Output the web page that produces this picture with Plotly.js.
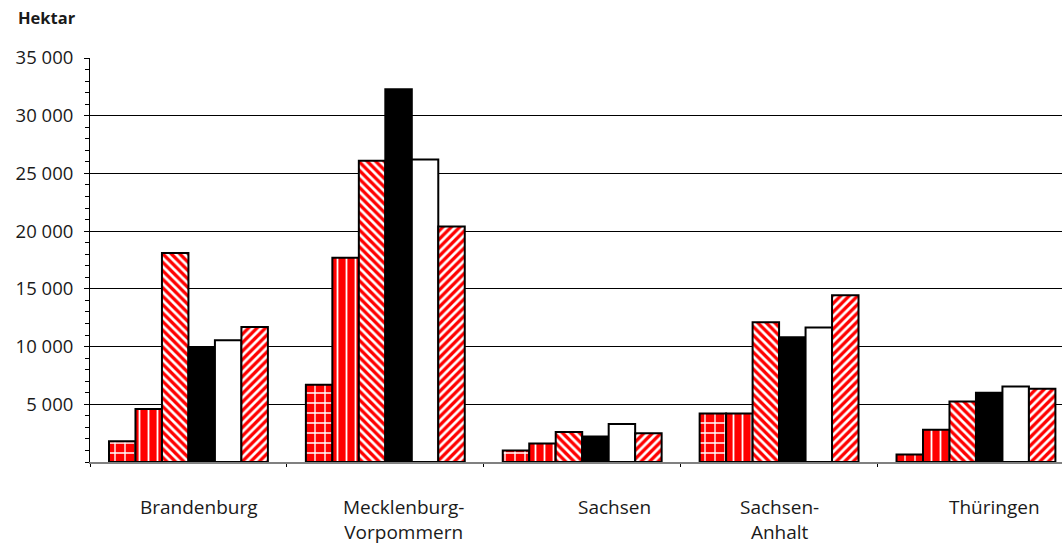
<!DOCTYPE html>
<html>
<head>
<meta charset="utf-8">
<script src="https://cdn.plot.ly/plotly-3.0.1.min.js"></script>
<style>
  html, body { margin: 0; padding: 0; background: #ffffff; }
  #chart { width: 1062px; height: 544px; }
</style>
</head>
<body>
<div id="chart"></div>
<script>
// Federal states (x categories) and their axis labels
const categories = ['Brandenburg', 'Mecklenburg-Vorpommern', 'Sachsen', 'Sachsen-Anhalt', 'Thüringen'];
const categoryLabels = ['Brandenburg', 'Mecklenburg-<br>Vorpommern', 'Sachsen', 'Sachsen-<br>Anhalt', 'Thüringen'];

// Area in hectares, one array per series
const series1 = [1800, 6700, 1000, 4200, 650];
const series2 = [4600, 17700, 1600, 4200, 2800];
const series3 = [18100, 26100, 2600, 12100, 5250];
const series4 = [9950, 32300, 2200, 10800, 6000];
const series5 = [10550, 26200, 3300, 11650, 6550];
const series6 = [11700, 20400, 2500, 14450, 6350];

const yTickValues = [5000, 10000, 15000, 20000, 25000, 30000, 35000];

const RED = '#ff0000';
const FONT = 'Open Sans, Noto Sans, sans-serif';

function bar(name, values, fill, pattern) {
  const marker = { color: fill, line: { color: '#000000', width: 2 } };
  if (pattern) {
    marker.pattern = Object.assign({ fillmode: 'replace', bgcolor: RED, fgcolor: '#ffffff' }, pattern);
  }
  return { type: 'bar', name: name, x: categories, y: values, marker: marker, hoverinfo: 'x+y' };
}

const traces = [
  bar('Serie 1', series1, RED, { shape: '+', size: 10, solidity: 0.25 }),
  bar('Serie 2', series2, RED, { shape: '|', size: 9, solidity: 0.2 }),
  bar('Serie 3', series3, RED, { shape: '\\', size: 6, solidity: 0.45 }),
  bar('Serie 4', series4, '#000000', null),
  bar('Serie 5', series5, '#ffffff', null),
  bar('Serie 6', series6, RED, { shape: '/', size: 6, solidity: 0.45 })
];

// Horizontal nudges for the state names below the groups
const labelShift = [11, 18, 32, 0, 19];
const annotations = categories.map((c, i) => ({
  x: c, xref: 'x', y: 0, yref: 'paper',
  text: categoryLabels[i], showarrow: false,
  xanchor: 'center', yanchor: 'top', yshift: -30, xshift: labelShift[i],
  font: { family: FONT, size: 19, color: '#1a1a1a' }
}));

const layout = {
  width: 1062, height: 544,
  margin: { l: 89.5, r: 0, t: 58, b: 81.5 },
  paper_bgcolor: '#ffffff', plot_bgcolor: '#ffffff',
  showlegend: false,
  barmode: 'group', bargap: 0.193, bargroupgap: 0,
  separators: ', ',
  font: { family: FONT, color: '#1a1a1a' },
  title: {
    text: '<b>Hektar</b>', xref: 'container', yref: 'container',
    x: 18 / 1062, xanchor: 'left', y: 1 - 18 / 544, yanchor: 'middle',
    font: { family: FONT, size: 16.5, color: '#1a1a1a' }
  },
  xaxis: {
    type: 'category', range: [-0.5, 4.437],
    showticklabels: false,
    showline: true, linecolor: '#808080', linewidth: 2,
    ticks: 'outside', tickson: 'boundaries', ticklen: 3, tickcolor: '#000000',
    showgrid: false, zeroline: false, fixedrange: true
  },
  yaxis: {
    range: [0, 35000],
    tickmode: 'array', tickvals: yTickValues, tickformat: ',d',
    tickfont: { family: FONT, size: 18.5, color: '#1a1a1a' },
    ticks: 'outside', ticklen: 5, tickcolor: '#000000', ticklabelstandoff: 7,
    minor: { tickmode: 'linear', tick0: 0, dtick: 1000, ticks: 'outside', ticklen: 4, tickcolor: '#000000', showgrid: false },
    showline: true, linecolor: '#000000', linewidth: 1,
    showgrid: true, gridcolor: '#000000', gridwidth: 1,
    zeroline: false, fixedrange: true
  },
  annotations: annotations
};

Plotly.newPlot('chart', traces, layout, { displayModeBar: false, staticPlot: true });
</script>
</body>
</html>
